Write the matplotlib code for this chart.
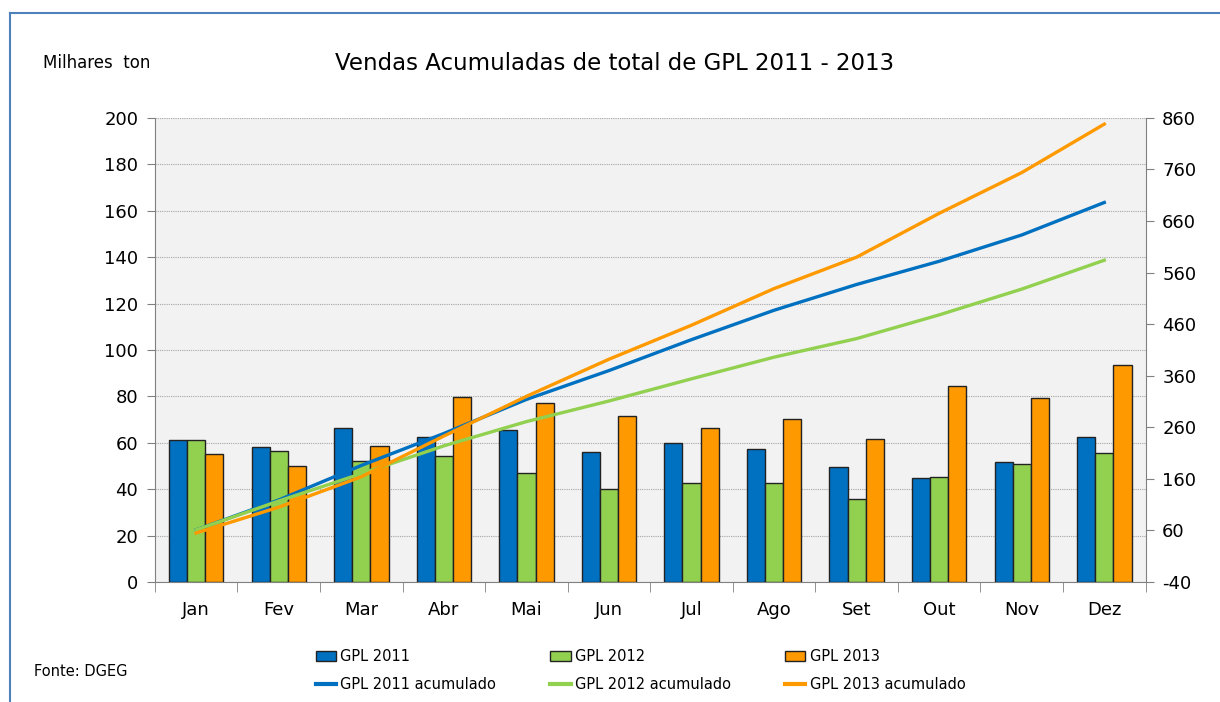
import numpy as np
import matplotlib.pyplot as plt
from matplotlib.lines import Line2D

plt.rcParams['axes.unicode_minus'] = False

months = ['Jan', 'Fev', 'Mar', 'Abr', 'Mai', 'Jun', 'Jul', 'Ago', 'Set', 'Out', 'Nov', 'Dez']

# monthly sales (milhares ton)
gpl_2011 = [61, 58.3, 66.5, 62.5, 65.5, 56, 60, 57.3, 49.6, 44.8, 51.8, 62.3]
gpl_2012 = [61, 56.5, 52.2, 54.3, 47, 40, 42.7, 42.7, 35.8, 45.3, 50.9, 55.6]
gpl_2013 = [55, 50, 58.6, 79.7, 77.2, 71.6, 66.4, 70.3, 61.6, 84.5, 79.3, 93.5]

# accumulated sales (right axis)
acum_2011 = [61, 119, 186, 248, 314, 370, 430, 487, 537, 582, 633, 696]
acum_2012 = [61, 117, 170, 224, 271, 311, 354, 396, 432, 478, 528, 584]
acum_2013 = [55, 105, 164, 243, 320, 392, 458, 529, 590, 675, 754, 848]

c_blue = '#0070C0'
c_green = '#92D050'
c_orange = '#FF9900'

fig = plt.figure(figsize=(12.2, 7.02), dpi=100)
ax = fig.add_axes([0.127, 0.171, 0.812, 0.661])
ax.set_facecolor('#F2F2F2')

x = np.arange(len(months))
w = 0.22
b1 = ax.bar(x - w, gpl_2011, w, color=c_blue, edgecolor='#222222', linewidth=1, zorder=3)
b2 = ax.bar(x, gpl_2012, w, color=c_green, edgecolor='#222222', linewidth=1, zorder=3)
b3 = ax.bar(x + w, gpl_2013, w, color=c_orange, edgecolor='#222222', linewidth=1, zorder=3)

ax.set_xlim(-0.5, 11.5)
ax.set_ylim(0, 200)
ax.set_yticks(range(0, 201, 20))
ax.yaxis.grid(True, linestyle=(0, (1, 1)), color='#A6A6A6', linewidth=0.8, zorder=0)
ax.set_xticks(x)
ax.set_xticklabels(months)
ax.set_xticks(np.arange(-0.5, 12, 1), minor=True)
ax.tick_params(axis='x', which='major', length=0, labelsize=13, pad=14)
ax.tick_params(axis='x', which='minor', length=7, color='#808080')
ax.tick_params(axis='y', labelsize=13, length=6, color='#808080', pad=6)
for s in ['top', 'right']:
    ax.spines[s].set_visible(False)
for s in ['left', 'bottom']:
    ax.spines[s].set_color('#808080')

ax2 = ax.twinx()
ax2.set_ylim(-40, 860)
ax2.set_yticks(range(-40, 861, 100))
ax2.tick_params(axis='y', labelsize=13, length=6, color='#808080', pad=6)
for s in ['top', 'left', 'bottom']:
    ax2.spines[s].set_visible(False)
ax2.spines['right'].set_color('#808080')
ax2.plot(x, acum_2011, color=c_blue, linewidth=2.4, zorder=4)
ax2.plot(x, acum_2012, color=c_green, linewidth=2.4, zorder=4)
ax2.plot(x, acum_2013, color=c_orange, linewidth=2.4, zorder=4)

fig.text(0.504, 0.91, 'Vendas Acumuladas de total de GPL 2011 - 2013', ha='center', va='center', fontsize=16.5)
fig.text(0.035, 0.91, 'Milhares  ton', ha='left', va='center', fontsize=12)
fig.text(0.028, 0.044, 'Fonte: DGEG', ha='left', va='center', fontsize=10.5)

handles = [b1, Line2D([], [], color=c_blue, lw=3),
           b2, Line2D([], [], color=c_green, lw=3),
           b3, Line2D([], [], color=c_orange, lw=3)]
labels = ['GPL 2011', 'GPL 2011 acumulado', 'GPL 2012', 'GPL 2012 acumulado',
          'GPL 2013', 'GPL 2013 acumulado']
fig.legend(handles, labels, ncol=3, loc='center', bbox_to_anchor=(0.525, 0.045),
           frameon=False, fontsize=10.5, columnspacing=3.7, handlelength=1.4,
           handletextpad=0.3, labelspacing=0.9)

# frame on top and left (as in the cropped screenshot)
fig.add_artist(Line2D([0.008, 0.008], [0, 0.982], color='#4F81BD', lw=1.5, transform=fig.transFigure))
fig.add_artist(Line2D([0.008, 1], [0.982, 0.982], color='#4F81BD', lw=1.5, transform=fig.transFigure))

fig.savefig('out.png', dpi=100)
